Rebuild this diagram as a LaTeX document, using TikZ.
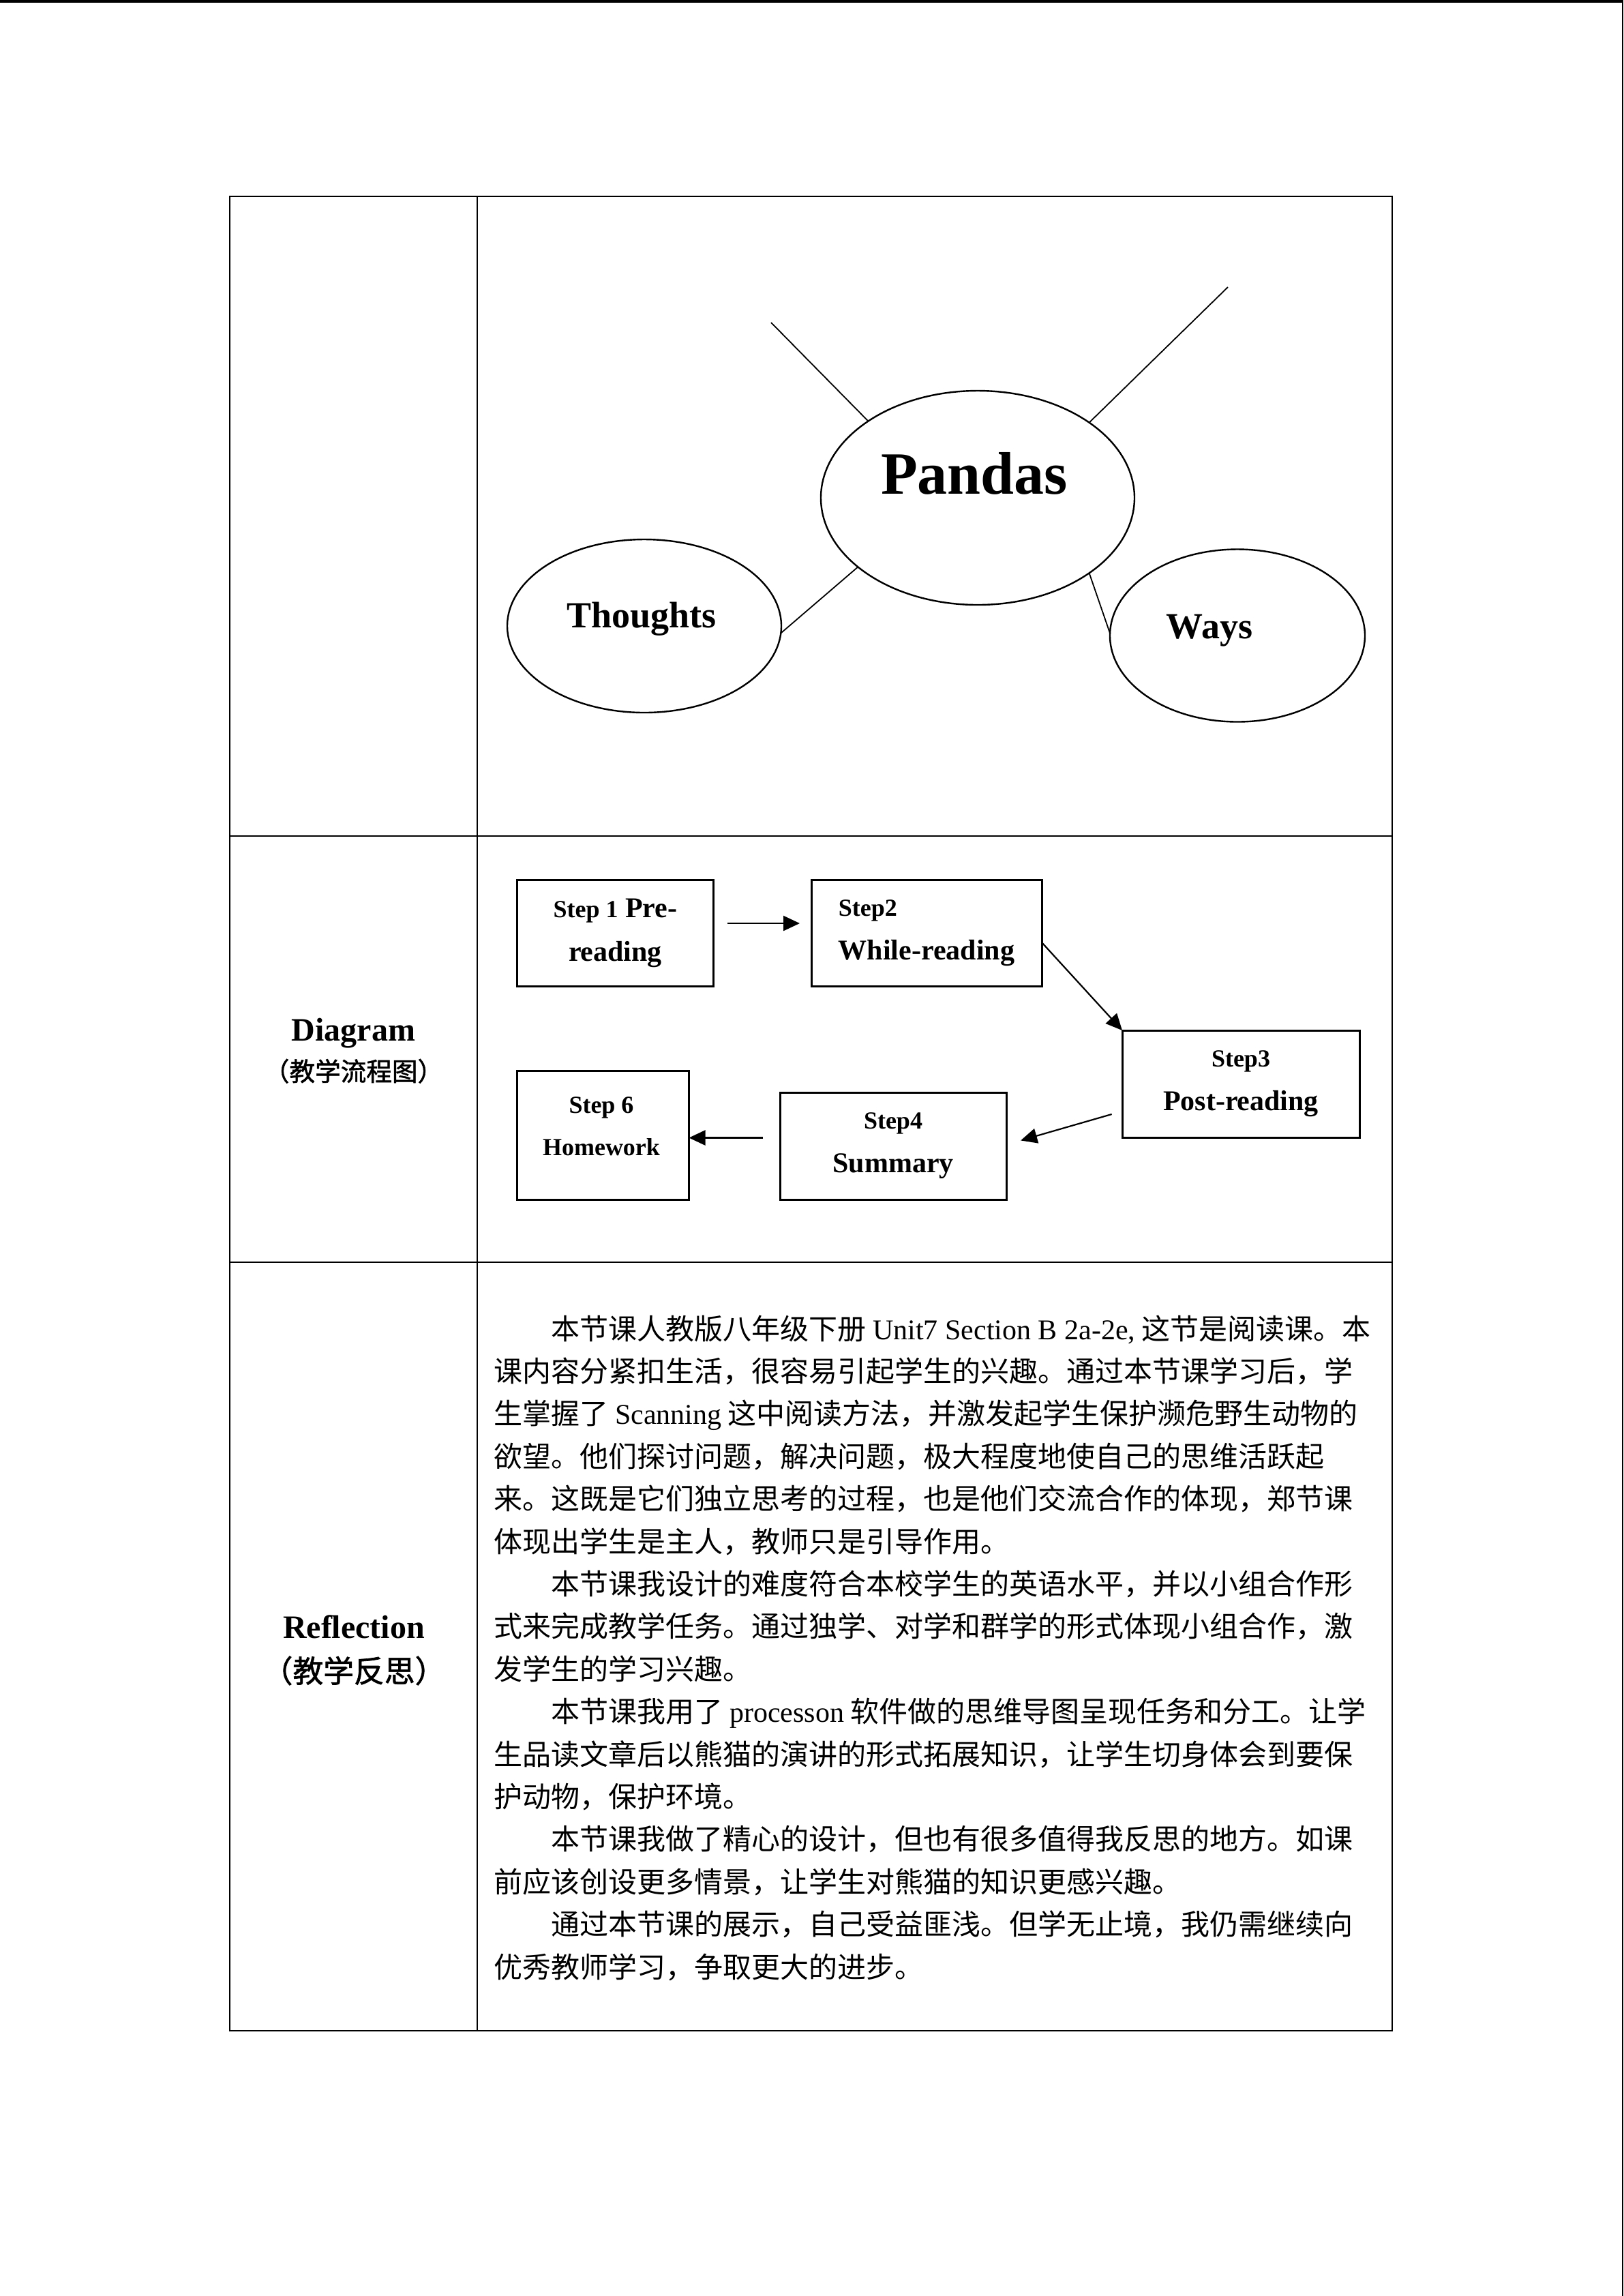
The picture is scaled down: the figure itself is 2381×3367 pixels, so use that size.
\documentclass[tikz,border=0pt]{standalone}
\usepackage{fontspec}
\setmainfont{Liberation Serif}
\newfontfamily\cjk{Noto Sans CJK SC}
\newfontfamily\cjkbold[FakeBold=1.5]{Noto Sans CJK SC}
\usetikzlibrary{arrows.meta, shapes.geometric}
\tikzstyle{bubble} = [draw, ellipse, line width=0.6pt, inner sep=0pt, outer sep=0pt]
\tikzstyle{stepbox} = [draw, rectangle, line width=0.75pt, inner sep=0pt, outer sep=0pt, align=center, font=\bfseries\fontsize{10.5}{16}\selectfont]
\tikzstyle{flowarrow} = [-{Triangle[length=6pt, width=5.5pt]}, line width=0.55pt]
\tikzstyle{mapline} = [line width=0.45pt]
\tikzstyle{bodyline} = [anchor=base west, inner sep=0pt, font=\cjk\fontsize{10.5}{13}\selectfont]
\newcommand{\stepword}[1]{{\fontsize{9}{16}\selectfont #1}}

\begin{document}
\begin{tikzpicture}[x=0.25pt, y=-0.25pt]
      \useasboundingbox (0,0) rectangle (2381,3367);
      % page edges
      \fill (0,0) rectangle (2381,3.5);
      \fill (2379,0) rectangle (2381,3367);
      % table
      \draw[line width=0.6pt] (337,288) rectangle (2042,2978);
      \draw[line width=0.6pt] (700,288) -- (700,2978);
      \draw[line width=0.6pt] (337,1226) -- (2042,1226);
      \draw[line width=0.6pt] (337,1851) -- (2042,1851);

      % mind map
      \node[bubble, minimum width=115pt, minimum height=78.5pt] (pandas) at (1434,730) {};
      \node[bubble, minimum width=100.5pt, minimum height=63.5pt] (thoughts) at (945,918) {};
      \node[bubble, minimum width=93.5pt, minimum height=63.25pt] (ways) at (1815,932) {};
      \node[anchor=base, font=\bfseries\fontsize{22}{26}\selectfont] (pandastxt) at (1429,724) {Pandas};
      \node[anchor=base, font=\bfseries\fontsize{13.5}{16}\selectfont] (thoughtstxt) at (941,920) {Thoughts};
      \node[anchor=base, font=\bfseries\fontsize{13.5}{16}\selectfont] (waystxt) at (1774,936) {Ways};
      \coordinate (branchNW) at (1131,473);
      \coordinate (branchNE) at (1801,421);
      \draw[mapline] (pandas.145) -- (branchNW);
      \draw[mapline] (pandas.34) -- (branchNE);
      \draw[mapline] (pandas.210) -- (thoughts.-3);
      \draw[mapline] (pandas.-34) -- (ways.179);

      % flow diagram
      \node[anchor=base, font=\bfseries\fontsize{12}{14}\selectfont] (diagtitle) at (518.5,1526) {Diagram};
      \node[anchor=base, font=\cjkbold\fontsize{9.4}{11}\selectfont] (diagcn) at (518.5,1585) {（教学流程图）};
      \node[stepbox, minimum width=72pt, minimum height=39pt] (step1) at (902.5,1368) {\stepword{Step 1} Pre-\\reading};
      \node[stepbox, minimum width=84.5pt, minimum height=39pt, align=left] (step2) at (1359,1368) {\stepword{Step2}\\While-reading};
      \node[stepbox, minimum width=87pt, minimum height=39.25pt] (step3) at (1820,1589.5) {\stepword{Step3}\\Post-reading};
      \node[stepbox, minimum width=83pt, minimum height=39.25pt] (step4) at (1310,1680.5) {\stepword{Step4}\\Summary};
      \node[stepbox, minimum width=63pt, minimum height=47.25pt] (step6) at (884.5,1664.5) {};
      \node[align=center, font=\bfseries\fontsize{9}{15.5}\selectfont] (step6txt) at (882,1652) {Step 6\\Homework};
      \draw[flowarrow, shorten <=5pt, shorten >=4.25pt] ([yshift=3.5pt]step1.east) -- ([yshift=3.5pt]step2.west);
      \draw[flowarrow] ([yshift=-3.5pt]step2.east) -- (step3.north west);
      \draw[flowarrow, shorten <=4pt, shorten >=5.5pt] ([yshift=-10pt]step3.west) -- ([yshift=0.5pt]step4.east);
      \draw[flowarrow, shorten <=6.25pt] ([yshift=3pt]step4.west) -- ([yshift=-1pt]step6.east);

      % reflection
      \node[anchor=base, font=\bfseries\fontsize{12}{14}\selectfont] (refltitle) at (519,2402) {Reflection};
      \node[anchor=base, font=\cjkbold\fontsize{11.2}{13}\selectfont] (reflcn) at (519,2467) {（教学反思）};
      \foreach \ln [count=\i from 0] in {
          {\hspace*{2em}本节课人教版八年级下册 {\rmfamily Unit7 Section B 2a-2e,} 这节是阅读课。本},
          {课内容分紧扣生活，很容易引起学生的兴趣。通过本节课学习后，学},
          {生掌握了 {\rmfamily Scanning} 这中阅读方法，并激发起学生保护濒危野生动物的},
          {欲望。他们探讨问题，解决问题，极大程度地使自己的思维活跃起},
          {来。这既是它们独立思考的过程，也是他们交流合作的体现，郑节课},
          {体现出学生是主人，教师只是引导作用。},
          {\hspace*{2em}本节课我设计的难度符合本校学生的英语水平，并以小组合作形},
          {式来完成教学任务。通过独学、对学和群学的形式体现小组合作，激},
          {发学生的学习兴趣。},
          {\hspace*{2em}本节课我用了 {\rmfamily processon} 软件做的思维导图呈现任务和分工。让学},
          {生品读文章后以熊猫的演讲的形式拓展知识，让学生切身体会到要保},
          {护动物，保护环境。},
          {\hspace*{2em}本节课我做了精心的设计，但也有很多值得我反思的地方。如课},
          {前应该创设更多情景，让学生对熊猫的知识更感兴趣。},
          {\hspace*{2em}通过本节课的展示，自己受益匪浅。但学无止境，我仍需继续向},
          {优秀教师学习，争取更大的进步。}}
        \node[bodyline] (line\i) at (724,{1964+62.4*\i}) {\ln};
\end{tikzpicture}
\end{document}
